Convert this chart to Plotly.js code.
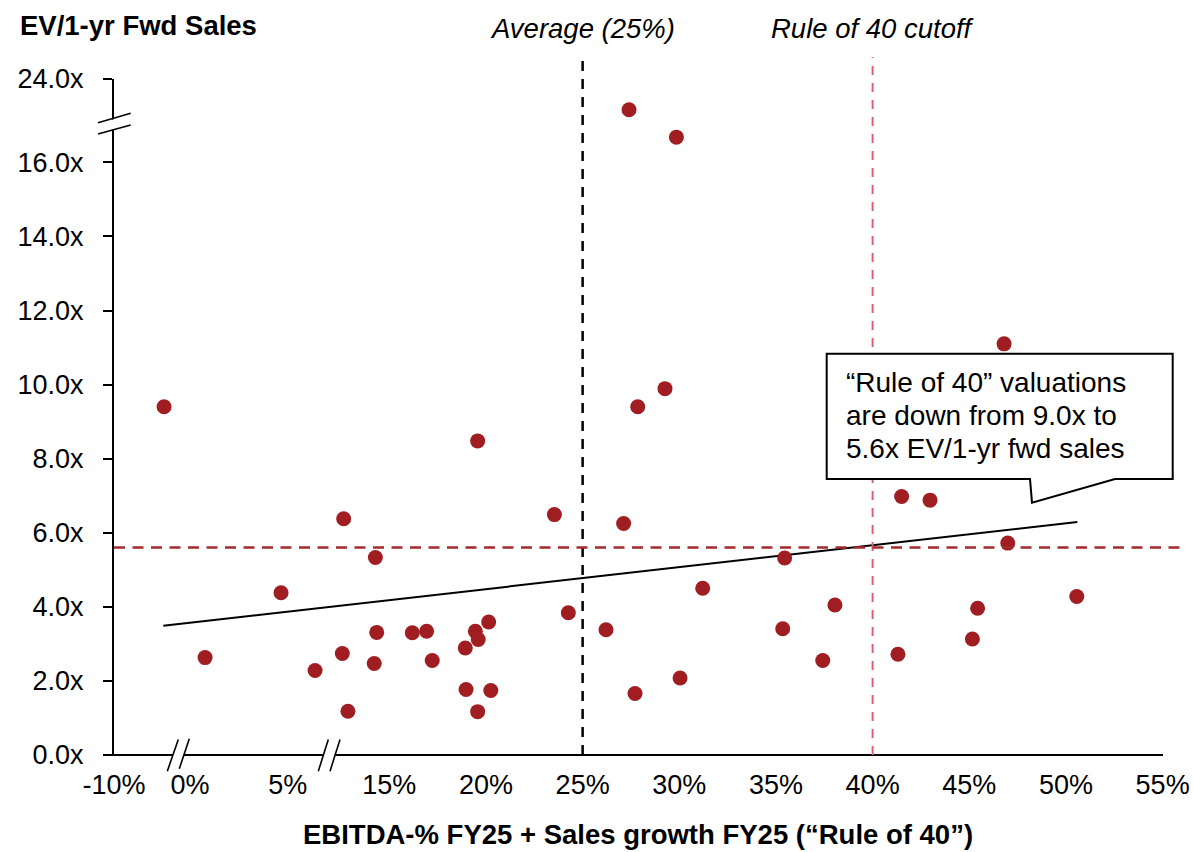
<!DOCTYPE html>
<html>
<head>
<meta charset="utf-8">
<script src="https://cdn.plot.ly/plotly-3.0.1.min.js"></script>
<style>
  html, body { margin: 0; padding: 0; background: #ffffff; }
  #chart { width: 1193px; height: 852px; }
</style>
</head>
<body>
<div id="chart"></div>
<script>
// Rule of 40 score (display scale of the broken x axis) and EV / 1-yr forward sales (display scale of the broken y axis)
const ruleOf40 = [
  3.35, 5.47, 9.40, 11.16, 12.57, 12.64, 12.86, 14.22, 14.28, 14.35,
  16.19, 16.93, 17.22, 18.93, 18.97, 19.45, 19.57, 19.60, 19.57, 20.14,
  20.25, 23.54, 24.26, 26.21, 27.12, 27.40, 27.71, 27.85, 29.26, 29.85,
  30.04, 31.21, 35.35, 35.45, 37.42, 38.05, 41.31, 41.50, 42.97, 45.16,
  45.43, 46.80, 46.99, 50.56
];
const evSales = [
  9.40, 2.63, 4.38, 2.28, 2.74, 6.38, 1.18, 2.47, 5.33, 3.31,
  3.30, 3.34, 2.55, 2.89, 1.77, 3.34, 8.48, 3.12, 1.17, 3.59,
  1.74, 6.49, 3.84, 3.38, 6.25, 17.42, 1.66, 9.40, 9.89, 16.68,
  2.08, 4.50, 3.41, 5.32, 2.55, 4.05, 2.72, 6.98, 6.88, 3.13,
  3.96, 11.10, 5.72, 4.28
];

// Linear trend through the cloud
const trendX = [3.31, 50.59];
const trendY = [3.49, 6.29];

// Reference levels
const averageScore = 25;
const ruleCutoff = 40;
const ruleMultiple = 5.6;

// Axis ticks (broken axes: labels differ from the plotted scale)
const xTickVals = [0.76, 4.69, 9.75, 15, 20, 25, 30, 35, 40, 45, 50, 55];
const xTickText = ['-10%', '0%', '5%', '15%', '20%', '25%', '30%', '35%', '40%', '45%', '50%', '55%'];
const yTickVals = [0, 2, 4, 6, 8, 10, 12, 14, 16, 18.25];
const yTickText = ['0.0x', '2.0x', '4.0x', '6.0x', '8.0x', '10.0x', '12.0x', '14.0x', '16.0x', '24.0x'];

const calloutLines = [
  '\u201CRule of 40\u201D valuations',
  'are down from 9.0x to',
  '5.6x EV/1-yr fwd sales'
];

const FONT = 'Liberation Sans, Arial, sans-serif';
const DOT = '#a01e22';

// plot area in pixels: left 114, right 1163, top 79, bottom 755.5
const W = 1049, H = 676.5;
const px = v => (v - 114) / W;          // pixel x -> paper x
const py = v => (755.5 - v) / H;        // pixel y -> paper y

const traces = [
  {
    x: trendX, y: trendY, mode: 'lines', type: 'scatter',
    line: { color: '#000000', width: 2 }, hoverinfo: 'skip', cliponaxis: false
  },
  {
    x: ruleOf40, y: evSales, mode: 'markers', type: 'scatter',
    marker: { color: DOT, size: 15, line: { width: 0 } }, cliponaxis: false
  }
];

function seg(x0, y0, x1, y1, w) {
  return { type: 'line', xref: 'paper', yref: 'paper', x0: px(x0), y0: py(y0), x1: px(x1), y1: py(y1),
           line: { color: '#000000', width: w || 1.6 } };
}
function mask(pts) {
  const d = 'M ' + pts.map(p => px(p[0]) + ',' + py(p[1])).join(' L ') + ' Z';
  return { type: 'path', xref: 'paper', yref: 'paper', path: d, fillcolor: '#ffffff', line: { width: 0 } };
}

const calloutPath = 'M ' + [
  [826.7, 354], [1172.7, 354], [1172.7, 479.3], [1115, 479.3], [1032, 503], [1030, 479.3], [826.7, 479.3]
].map(p => px(p[0]) + ',' + py(p[1])).join(' L ') + ' Z';

const shapes = [
  // x axis line, extended left past the y axis
  { type: 'line', xref: 'paper', yref: 'paper', x0: px(105), x1: 1, y0: 0, y1: 0, line: { color: '#000000', width: 2 } },
  // vertical reference lines
  { type: 'line', xref: 'x', yref: 'paper', x0: averageScore, x1: averageScore, y0: 0, y1: py(57),
    line: { color: '#000000', width: 2.5, dash: '10px,8px' } },
  { type: 'line', xref: 'x', yref: 'paper', x0: ruleCutoff, x1: ruleCutoff, y0: 0, y1: py(57),
    line: { color: '#e35d74', width: 2, dash: '9px,8px' } },
  // horizontal "Rule of 40" multiple
  { type: 'line', xref: 'paper', yref: 'y', x0: 0, x1: px(1182), y0: ruleMultiple, y1: ruleMultiple,
    line: { color: '#a52a2d', width: 2.5, dash: '11px,7.5px' } },
  // y axis break
  mask([[97, 124], [132, 114], [132, 124], [97, 134]]),
  seg(98, 122.7, 130.7, 113.3),
  seg(98, 134, 130.7, 125),
  // x axis breaks
  mask([[178.3, 740], [189.3, 739.3], [179.3, 769.3], [167.3, 771.7]]),
  seg(167.3, 771.7, 178.3, 740),
  seg(179.3, 769.3, 189.3, 739.3),
  mask([[328.3, 740], [340, 740], [330, 771.7], [318.3, 771.7]]),
  seg(318.3, 771.7, 328.3, 740),
  seg(330, 771.7, 340, 740),
  // callout box
  { type: 'path', xref: 'paper', yref: 'paper', path: calloutPath, fillcolor: '#ffffff',
    line: { color: '#000000', width: 2 } }
];

const annotations = [
  { xref: 'paper', yref: 'paper', x: px(18), y: py(25), xanchor: 'left', yanchor: 'middle', showarrow: false,
    text: '<b>EV/1-yr Fwd Sales</b>', font: { family: FONT, size: 27.5, color: '#000000' } },
  { xref: 'x', yref: 'paper', x: averageScore, y: py(28), xanchor: 'center', yanchor: 'middle', showarrow: false,
    text: '<i>Average (25%)</i>', font: { family: FONT, size: 27.5, color: '#000000' } },
  { xref: 'x', yref: 'paper', x: ruleCutoff, y: py(28), xanchor: 'center', yanchor: 'middle', showarrow: false,
    text: '<i>Rule of 40 cutoff</i>', font: { family: FONT, size: 27.5, color: '#000000' } },
  { xref: 'paper', yref: 'paper', x: px(638), y: py(835), xanchor: 'center', yanchor: 'middle', showarrow: false,
    text: '<b>EBITDA-% FY25 + Sales growth FY25 (\u201CRule of 40\u201D)</b>',
    font: { family: FONT, size: 27.5, color: '#000000' } }
];
// callout text, one annotation per line for tight leading
const lineCentres = [383, 416, 449];
calloutLines.forEach((t, i) => {
  annotations.push({ xref: 'paper', yref: 'paper', x: px(844), y: py(lineCentres[i]), xanchor: 'left',
    yanchor: 'middle', align: 'left', showarrow: false, text: t,
    font: { family: FONT, size: 28, color: '#000000' } });
});

const layout = {
  width: 1193, height: 852,
  margin: { l: 114, r: 30, t: 79, b: 96.5, pad: 0 },
  paper_bgcolor: '#ffffff', plot_bgcolor: '#ffffff',
  showlegend: false,
  font: { family: FONT, size: 27, color: '#000000' },
  xaxis: {
    range: [0.76, 55.02], showgrid: false, zeroline: false, showline: false,
    tickmode: 'array', tickvals: xTickVals, ticktext: xTickText,
    ticks: '', ticklabelstandoff: 11, tickfont: { family: FONT, size: 27, color: '#000000' }
  },
  yaxis: {
    range: [0, 18.25], showgrid: false, zeroline: false, showline: true, linecolor: '#000000', linewidth: 2,
    tickmode: 'array', tickvals: yTickVals, ticktext: yTickText,
    ticks: 'outside', ticklen: 9, tickwidth: 2, tickcolor: '#000000', ticklabelstandoff: 14,
    tickfont: { family: FONT, size: 27, color: '#000000' }
  },
  shapes: shapes,
  annotations: annotations
};

Plotly.newPlot('chart', traces, layout, { staticPlot: true, displayModeBar: false });
</script>
</body>
</html>
